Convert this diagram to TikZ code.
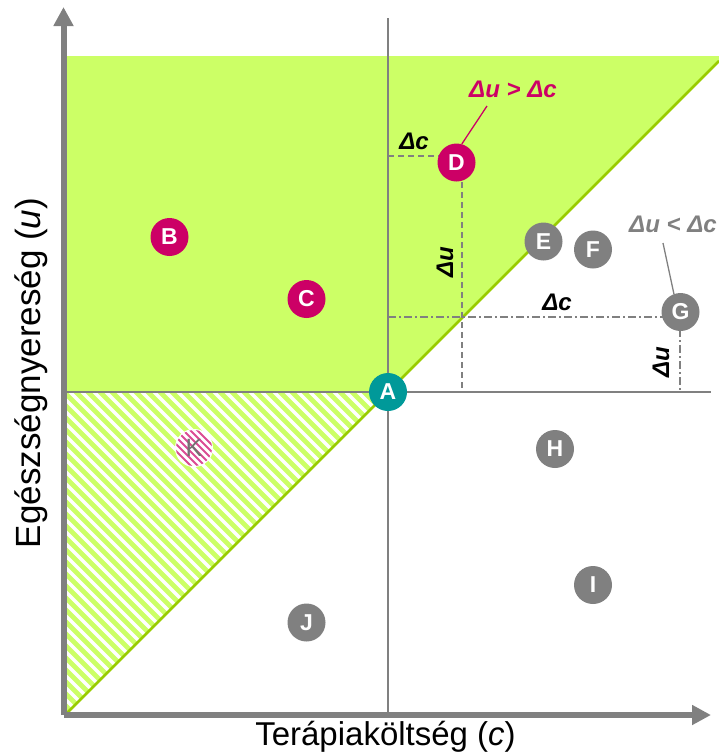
\documentclass[tikz,border=0pt]{standalone}
\usepackage{fontspec}
\setmainfont{Liberation Sans}
\usetikzlibrary{arrows.meta}

\definecolor{effgreen}{HTML}{CCFF66}
\definecolor{effline}{HTML}{99CC00}
\definecolor{gridgray}{HTML}{808080}
\definecolor{hitpink}{HTML}{CC0066}
\definecolor{basecyan}{HTML}{009999}

\tikzset{
  axis/.style={gridgray, line width=6pt, -{Triangle[length=19pt, width=19pt]}},
  grid/.style={gridgray, line width=1.4pt},
  guide/.style={gridgray, line width=1.4pt, dash pattern=on 6pt off 4pt},
  guidedot/.style={gridgray, line width=1.4pt, dash pattern=on 8pt off 3pt on 2pt off 3pt},
  pnt/.style={circle, minimum size=38pt, inner sep=0pt, text=white,
    font=\fontsize{23}{23}\selectfont\bfseries},
  win/.style={pnt, fill=hitpink},
  lose/.style={pnt, fill=gridgray},
  delta/.style={font=\fontsize{24}{24}\selectfont\bfseries\itshape},
}

\begin{document}
\begin{tikzpicture}[x=1pt, y=-1pt]
  \useasboundingbox (0,0) rectangle (719,756);
  % region above the threshold line (more gain than cost)
  \fill[effgreen] (67,56) -- (719,56) -- (719,61) -- (388,392) -- (67,392) -- cycle;
  % hatched part: cheaper and worse, still acceptable
  \begin{scope}
    \clip (67,392) -- (388,392) -- (67,713) -- cycle;
    \foreach \k in {4,16,...,652}
      \draw[effgreen, line width=4.8pt] (40,{40+\k}) -- (420,{420+\k});
  \end{scope}
  % cross through the reference therapy
  \draw[grid] (388,18) -- (388,715);
  \draw[grid] (66,392) -- (711,392);
  \draw[effline, line width=2.5pt] (66,714) -- (719,61);
  % guides for D and G
  \draw[guide] (388,156) -- (462,156) -- (462,392);
  \draw[guidedot] (388,317) -- (680,317) -- (680,392);
  % axes
  \coordinate (O) at (63.5,715);
  \draw[axis] (O) -- (63.5,7);
  \draw[axis] (O) -- (711,715);
  \node[font=\fontsize{33}{33}\selectfont, anchor=base] (xlab) at (385.5,745) {Terápiaköltség (\textit{c})};
  \node[font=\fontsize{35}{35}\selectfont, anchor=base, rotate=90] (ylab) at (40,373) {Egészségnyereség (\textit{u})};
  % therapies
  \node[pnt, fill=basecyan] (A) at (388,392) {A};
  \node[win] (B) at (169.5,237) {B};
  \node[win] (C) at (306.5,299) {C};
  \node[win] (D) at (456.5,162.5) {D};
  \node[lose] (E) at (543.5,241.5) {E};
  \node[lose] (F) at (593,249.5) {F};
  \node[lose] (G) at (680.5,312) {G};
  \node[lose] (H) at (555,449) {H};
  \node[lose] (I) at (593,585) {I};
  \node[lose] (J) at (306.5,622.5) {J};
  \node[pnt, fill=white] (K) at (194,448) {};
  \begin{scope}
    \clip (K.center) circle (18pt);
    \foreach \k in {-42,-35,...,42}
      \draw[hitpink!70, line width=1.8pt] (150,{404+\k}) -- (240,{494+\k});
  \end{scope}
  \node[font=\fontsize{25}{25}\selectfont, text=gridgray!90!black] at (K) {K};
  % differences
  \node[delta] (dc1) at (414,141) {Δc};
  \node[delta, rotate=90] (du1) at (445,262) {Δu};
  \node[delta] (dc2) at (557,302) {Δc};
  \node[delta, rotate=90] (du2) at (661,362) {Δu};
  \node[delta, text=hitpink] (gt) at (513,89) {Δu > Δc};
  \node[delta, text=gridgray] (lt) at (673,224) {Δu < Δc};
  \coordinate (gtfoot) at (487,106);
  \coordinate (ltfoot) at (663,243);
  \draw[hitpink, line width=1.3pt] (gtfoot) -- (D.74);
  \draw[gridgray, line width=1.3pt] (ltfoot) -- (G.110);
\end{tikzpicture}
\end{document}
